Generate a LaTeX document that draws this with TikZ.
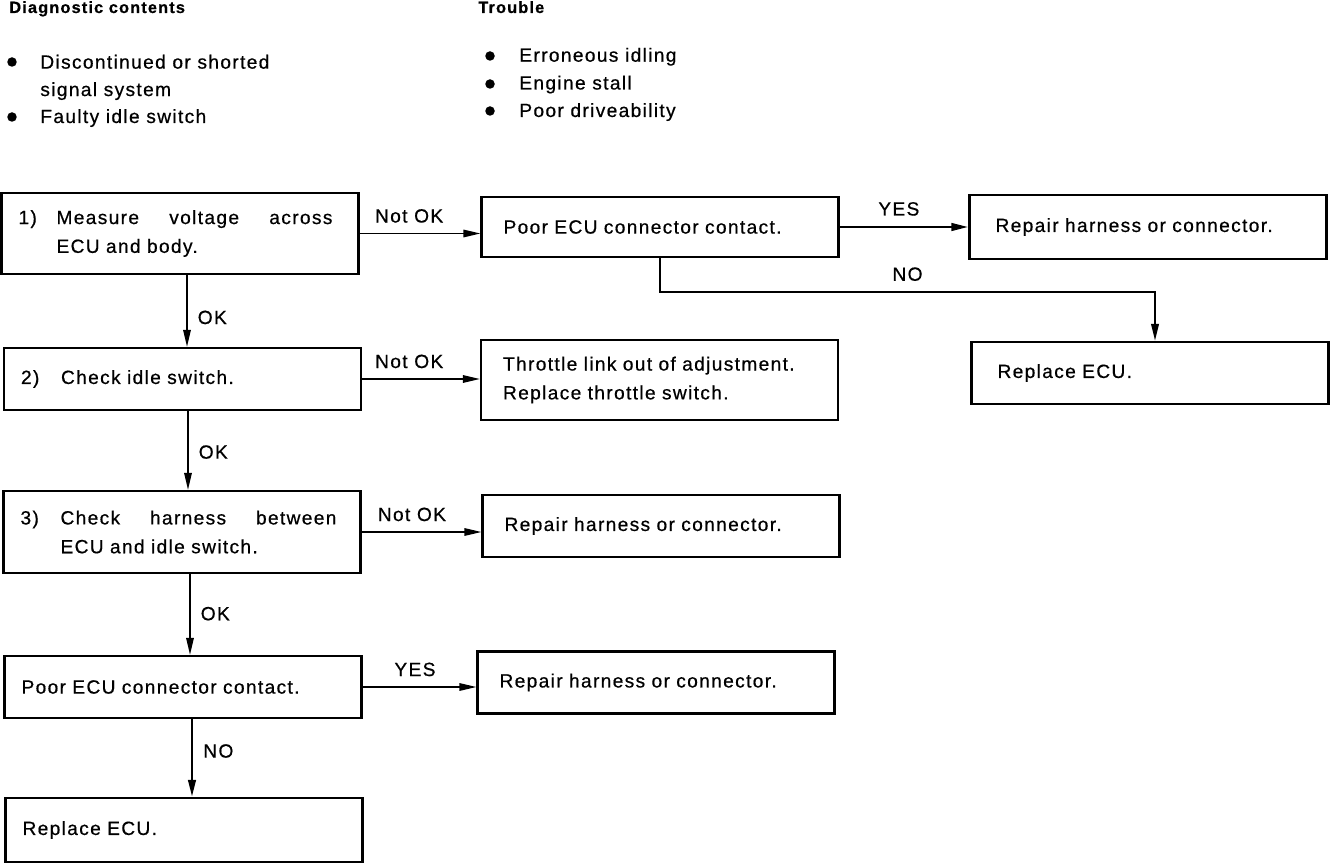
\documentclass[tikz,border=0pt]{standalone}
\usepackage{fontspec}
\setmainfont{Liberation Sans}[LetterSpace=7, FakeBold=0.6]
\usetikzlibrary{arrows.meta}

\tikzset{
  box/.style={draw, line width=1.3pt, minimum height=1.24cm, align=left},
  lbox/.style={box, inner xsep=0.34cm, text width=6.46cm},
  mbox/.style={box, inner xsep=0.44cm, text width=6.26cm},
  rbox/.style={box, inner xsep=0.52cm, text width=6.1cm},
  txt/.style={inner sep=0pt, anchor=base west},
  head/.style={txt, font=\fontsize{9.3}{12}\selectfont\bfseries},
}

\begin{document}
\begin{tikzpicture}[x=0.02cm, y=-0.02cm, font=\fontsize{10.9}{16.4}\selectfont]
		\useasboundingbox (0,0) rectangle (1344,864);

		% header
		\node[head] (diag) at (9,13) {Diagnostic contents};
		\node[head] (troub) at (478,13) {Trouble};
		\node[txt, anchor=north west, align=left, font=\fontsize{10.9}{15.6}\selectfont] (d-1) at (40,54.4) {Discontinued or shorted\\signal system};
		\node[txt] (d-2) at (40,123) {Faulty idle switch};
		\node[txt] (t-1) at (519,61.7) {Erroneous idling};
		\node[txt] (t-2) at (519,89.5) {Engine stall};
		\node[txt] (t-3) at (519,117) {Poor driveability};
		\foreach \x/\y in {12/62, 12/117, 490/56, 490/84, 490/111}
			\fill (\x,\y) circle (0.095cm);

		% boxes
		\node[lbox, minimum height=1.62cm] (meas) at (180,233.5) {\makebox[0.76cm][l]{1)}\parbox[t]{5.52cm}{Measure\hfill voltage\hfill across\\ECU and body.}};
		\node[lbox] (idle) at (182.5,379) {\makebox[0.8cm][l]{2)}Check idle switch.};
		\node[lbox, minimum height=1.64cm] (harn) at (182,532) {\makebox[0.8cm][l]{3)}\parbox[t]{5.52cm}{Check\hfill harness\hfill between\\ECU and idle switch.}};
		\node[lbox] (cont) at (183,687) {Poor ECU connector contact.};
		\node[lbox, minimum height=1.28cm] (ecu) at (184,830) {Replace ECU.};

		\node[mbox, minimum height=1.2cm] (cont-a) at (660,227) {Poor ECU connector contact.};
		\node[mbox, minimum height=1.6cm] (throt) at (659.5,380) {Throttle link out of adjustment.\\Replace throttle switch.};
		\node[mbox] (rep-b) at (661,526) {Repair harness or connector.};
		\node[mbox] (rep-c) at (656,682.5) {Repair harness or connector.};

		\node[rbox, minimum height=1.28cm] (rep-a) at (1148,227) {Repair harness or connector.};
		\node[rbox] (ecu-a) at (1150,373) {Replace ECU.};

		% connectors
		\begin{scope}[>={Triangle[length=3.4mm,width=1.5mm]},
		              every node/.style={inner sep=0.2cm},
		              every edge/.style={draw, ->, line width=0.9pt}]
			\path (meas.east) edge node[above, pos=0.41] {Not OK} (meas.east -| cont-a.west);
			\path (idle.east) edge node[above, pos=0.4] {Not OK} (idle.east -| throt.west);
			\path (harn.east) edge node[above, pos=0.42] {Not OK} (harn.east -| rep-b.west);
			\path (cont.east) edge node[above, pos=0.46] {YES} (cont.east -| rep-c.west);
			\path (cont-a.east) edge[line width=1.5pt] node[above, pos=0.46] {YES} (cont-a.east -| rep-a.west);

			\path ([xshift=0.14cm]meas.south) edge node[right, pos=0.59] {OK} ([xshift=0.14cm]meas.south |- idle.north);
			\path ([xshift=0.11cm]idle.south) edge node[right, pos=0.52] {OK} ([xshift=0.11cm]idle.south |- harn.north);
			\path ([xshift=0.16cm]harn.south) edge node[right, pos=0.49] {OK} ([xshift=0.16cm]harn.south |- cont.north);
			\path ([xshift=0.18cm]cont.south) edge[line width=1.5pt] node[right, pos=0.41] {NO} ([xshift=0.18cm]cont.south |- ecu.north);

			\coordinate (turn) at (1155,292);
			\draw[->, line width=1.2pt] (cont-a.south) |- node[above, pos=0.75] {NO} (turn) -- (turn |- ecu-a.north);
		\end{scope}
\end{tikzpicture}
\end{document}
